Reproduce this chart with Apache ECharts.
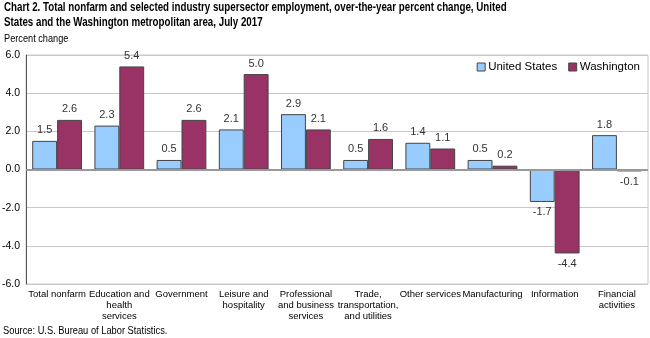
<!DOCTYPE html>
<html>
<head>
<meta charset="utf-8">
<script src="https://cdn.jsdelivr.net/npm/echarts@6/dist/echarts.min.js"></script>
<style>
  html, body { margin: 0; padding: 0; background: #fff; }
  #chart { width: 650px; height: 338px; }
</style>
</head>
<body>
<div id="chart"></div>
<script>
// Industry supersectors along the x axis
const categories = [
  'Total nonfarm',
  'Education and\nhealth\nservices',
  'Government',
  'Leisure and\nhospitality',
  'Professional\nand business\nservices',
  'Trade,\ntransportation,\nand utilities',
  'Other services',
  'Manufacturing',
  'Information',
  'Financial\nactivities'
];
// Over-the-year percent change, July 2017
const unitedStates = [1.5, 2.3, 0.5, 2.1, 2.9, 0.5, 1.4, 0.5, -1.7, 1.8];
const washington   = [2.6, 5.4, 2.6, 5.0, 2.1, 1.6, 1.1, 0.2, -4.4, -0.1];
// Value axis
const yMin = -6, yMax = 6, yStep = 2;

const FONT = 'Arial, "Liberation Sans", sans-serif';

const chart = echarts.init(document.getElementById('chart'), null, { renderer: 'canvas' });

function barLabel() {
  return {
    show: true,
    position: 'outside',
    distance: 5,
    color: '#333',
    fontFamily: FONT,
    fontSize: 11,
    formatter: p => p.value.toFixed(1)
  };
}

chart.setOption({
  animation: false,
  textStyle: { fontFamily: FONT },
  graphic: [
    {
      type: 'text', x: 4, y: 0, scaleX: 0.78,
      style: {
        text: 'Chart 2. Total nonfarm and selected industry supersector employment, over-the-year percent change, United\nStates and the Washington metropolitan area, July 2017',
        font: 'bold 12.5px ' + FONT,
        fill: '#000', lineHeight: 15
      }
    },
    {
      type: 'text', x: 4, y: 34, scaleX: 0.92,
      style: { text: 'Percent change', font: '10px ' + FONT, fill: '#000' }
    },
    {
      type: 'text', x: 3, y: 326, scaleX: 0.93,
      style: { text: 'Source: U.S. Bureau of Labor Statistics.', font: '10px ' + FONT, fill: '#000' }
    },
    {
      type: 'rect', shape: { x: 26, y: 55, width: 622, height: 229 },
      style: { fill: 'none', stroke: '#c8c8c8', lineWidth: 1 }, z: -1
    }
  ],
  legend: {
    top: 56, right: 5,
    icon: 'rect',
    itemWidth: 8, itemHeight: 8, itemGap: 11,
    itemStyle: { borderColor: '#444', borderWidth: 1 },
    textStyle: { fontSize: 11.5, color: '#000', fontFamily: FONT, padding: [0, 0, 0, -2] },
    data: ['United States', 'Washington']
  },
  grid: { left: 26, right: 2, top: 55, bottom: 54, containLabel: false, outerBoundsMode: 'none' },
  xAxis: {
    type: 'category',
    data: categories,
    axisLine: { show: false },
    axisTick: { show: false },
    axisLabel: {
      interval: 0, color: '#000', fontSize: 9.5, lineHeight: 11,
      fontFamily: FONT, margin: 5
    }
  },
  yAxis: {
    type: 'value',
    min: yMin, max: yMax, interval: yStep,
    axisLine: { show: true, lineStyle: { color: '#555', width: 1 } },
    axisTick: { show: false },
    axisLabel: {
      color: '#000', fontSize: 10.5, fontFamily: FONT, margin: 6,
      formatter: v => v.toFixed(1)
    },
    splitLine: { lineStyle: { color: '#c8c8c8', width: 1 } }
  },
  series: [
    {
      name: 'United States', type: 'bar', data: unitedStates,
      barGap: '0%', barCategoryGap: '20%',
      itemStyle: { color: '#99ccff', borderColor: '#444', borderWidth: 1 },
      label: barLabel(),
      markLine: {
        silent: true, symbol: 'none', label: { show: false },
        lineStyle: { color: '#999', width: 2, type: 'solid' },
        data: [{ yAxis: 0 }]
      }
    },
    {
      name: 'Washington', type: 'bar', data: washington,
      itemStyle: { color: '#993366', borderColor: '#444', borderWidth: 1 },
      label: barLabel()
    }
  ]
});
</script>
</body>
</html>
